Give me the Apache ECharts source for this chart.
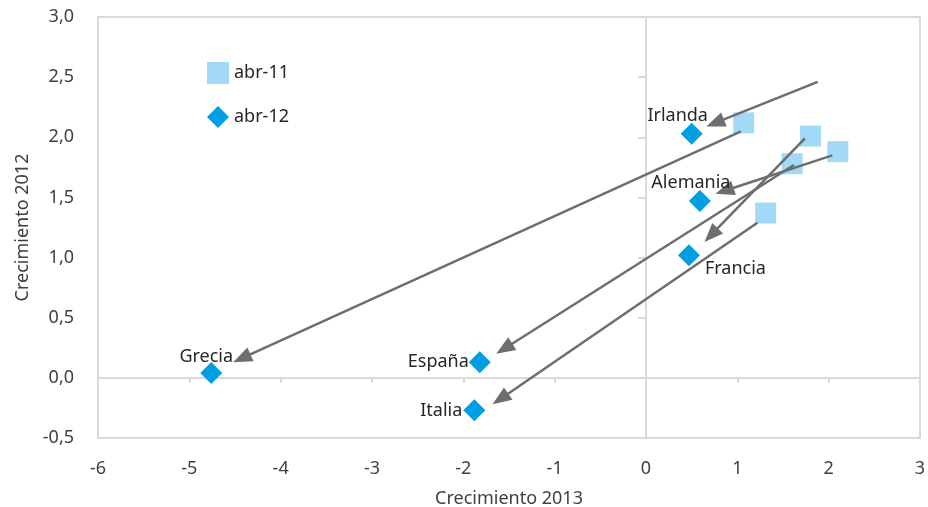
<!DOCTYPE html>
<html>
<head>
<meta charset="utf-8">
<script src="https://cdn.jsdelivr.net/npm/echarts@6/dist/echarts.min.js"></script>
<style>
  html, body { margin: 0; padding: 0; background: #fff; }
  #chart { width: 928px; height: 507px; }
</style>
</head>
<body>
<div id="chart"></div>
<script>
// Growth forecasts: 2013 (x) vs 2012 (y)
const countries = ['Irlanda', 'Alemania', 'Francia', 'España', 'Italia', 'Grecia'];

// April 2012 forecasts
const abr12X = [0.50, 0.59, 0.47, -1.82, -1.88, -4.76];
const abr12Y = [2.03, 1.47, 1.02, 0.13, -0.27, 0.04];

// April 2011 forecasts
const abr11X = [1.07, 1.80, 2.10, 1.60, 1.31];
const abr11Y = [2.12, 2.01, 1.88, 1.78, 1.37];

// Revision arrows (start -> tip)
const arrowFromX = [1.88, 1.04, 2.04, 1.74, 1.62, 1.22];
const arrowFromY = [2.46, 2.05, 1.85, 1.99, 1.77, 1.29];
const arrowToX   = [0.66, -4.52, 0.76, 0.64, -1.64, -1.68];
const arrowToY   = [2.09, 0.13, 1.53, 1.13, 0.20, -0.22];

// Axis ranges / ticks
const xTicks = [-6, -5, -4, -3, -2, -1, 0, 1, 2, 3];
const yTicks = [-0.5, 0, 0.5, 1, 1.5, 2, 2.5, 3];

const FONT = 'Noto Sans';
const GRID_GREY = '#d9d9d9';
const ARROW_GREY = '#6e6e6e';

// label placement per country (style only)
const labelPlace = {
  'Irlanda':  { align: 'center', offset: [-14, -18] },
  'Alemania': { align: 'center', offset: [-9, -18] },
  'Francia':  { align: 'left',   offset: [16, 14] },
  'España':   { align: 'right',  offset: [-11, 0] },
  'Italia':   { align: 'right',  offset: [-12, 1] },
  'Grecia':   { align: 'center', offset: [-5, -16] }
};

const abr12Data = countries.map((c, i) => ({
  name: c,
  value: [abr12X[i], abr12Y[i]],
  label: {
    show: true,
    position: 'inside',
    formatter: c,
    align: labelPlace[c].align,
    offset: labelPlace[c].offset,
    color: '#262626',
    fontFamily: FONT,
    fontSize: 18
  }
}));

const abr11Data = abr11X.map((x, i) => [x, abr11Y[i]]);

const arrowData = arrowFromX.map((x, i) => [x, arrowFromY[i], arrowToX[i], arrowToY[i]]);

// Straight arrow: shaft plus a filled triangular head whose tip sits on the end point
function renderArrow(params, api) {
  const p0 = api.coord([api.value(0), api.value(1)]);
  const p1 = api.coord([api.value(2), api.value(3)]);
  const dx = p1[0] - p0[0], dy = p1[1] - p0[1];
  const len = Math.sqrt(dx * dx + dy * dy) || 1;
  const ux = dx / len, uy = dy / len;
  const headLen = 19, headHalf = 7.5;
  const bx = p1[0] - ux * headLen, by = p1[1] - uy * headLen;
  return {
    type: 'group',
    children: [
      {
        type: 'line',
        shape: { x1: p0[0], y1: p0[1], x2: bx + ux * 2, y2: by + uy * 2 },
        style: { stroke: ARROW_GREY, lineWidth: 2.5, fill: null }
      },
      {
        type: 'polygon',
        shape: { points: [[p1[0], p1[1]], [bx - uy * headHalf, by + ux * headHalf], [bx + uy * headHalf, by - ux * headHalf]] },
        style: { fill: ARROW_GREY }
      }
    ]
  };
}

const yFmt = v => v.toFixed(1).replace('.', ',');

const chart = echarts.init(document.getElementById('chart'), null, { renderer: 'canvas' });

chart.setOption({
  animation: false,
  backgroundColor: '#fff',
  textStyle: { fontFamily: FONT },
  grid: {
    left: 98, right: 8, top: 17, bottom: 69,
    containLabel: false,
    outerBoundsMode: 'none',
    show: true,
    borderColor: GRID_GREY,
    borderWidth: 2,
    backgroundColor: 'transparent'
  },
  legend: {
    orient: 'vertical',
    left: 202,
    top: 57,
    itemWidth: 22,
    itemHeight: 22,
    itemGap: 22,
    textStyle: { fontFamily: FONT, fontSize: 18, color: '#262626' },
    data: ['abr-11', 'abr-12']
  },
  xAxis: [
    {
      type: 'value',
      min: xTicks[0], max: xTicks[xTicks.length - 1], interval: 1,
      name: 'Crecimiento 2013',
      nameLocation: 'middle',
      nameGap: 52,
      nameTextStyle: { fontFamily: FONT, fontSize: 18, color: '#404040' },
      axisLine: { show: false, onZero: false },
      axisTick: { show: false },
      splitLine: { show: false },
      axisLabel: { margin: 22, fontFamily: FONT, fontSize: 18, color: '#404040' }
    },
    {
      type: 'value',
      min: xTicks[0], max: xTicks[xTicks.length - 1], interval: 1,
      position: 'bottom',
      axisLine: { show: true, onZero: true, lineStyle: { color: GRID_GREY, width: 2 } },
      axisTick: { show: true, length: 5, lineStyle: { color: GRID_GREY, width: 2 } },
      axisLabel: { show: false },
      splitLine: { show: false }
    }
  ],
  yAxis: [
    {
      type: 'value',
      min: yTicks[0], max: yTicks[yTicks.length - 1], interval: 0.5,
      name: 'Crecimiento 2012',
      nameLocation: 'middle',
      nameGap: 66,
      nameTextStyle: { fontFamily: FONT, fontSize: 18, color: '#404040' },
      axisLine: { show: false, onZero: false },
      axisTick: { show: false },
      splitLine: { show: false },
      axisLabel: { margin: 24, fontFamily: FONT, fontSize: 18, color: '#404040', formatter: yFmt }
    },
    {
      type: 'value',
      min: yTicks[0], max: yTicks[yTicks.length - 1], interval: 0.5,
      position: 'left',
      axisLine: { show: true, onZero: true, lineStyle: { color: GRID_GREY, width: 2 } },
      axisTick: { show: true, length: 8, lineStyle: { color: GRID_GREY, width: 2 } },
      axisLabel: { show: false },
      splitLine: { show: false }
    }
  ],
  series: [
    {
      name: 'arrows',
      type: 'custom',
      coordinateSystem: 'cartesian2d',
      xAxisIndex: 0,
      yAxisIndex: 0,
      encode: { x: [0, 2], y: [1, 3] },
      renderItem: renderArrow,
      silent: true,
      z: 3,
      data: arrowData
    },
    {
      name: 'abr-11',
      type: 'scatter',
      xAxisIndex: 0,
      yAxisIndex: 0,
      symbol: 'rect',
      symbolSize: 21,
      itemStyle: { color: '#a2d9f7', opacity: 1 },
      z: 2,
      data: abr11Data
    },
    {
      name: 'abr-12',
      type: 'scatter',
      xAxisIndex: 0,
      yAxisIndex: 0,
      symbol: 'diamond',
      symbolSize: 22,
      itemStyle: { color: '#009fe3', opacity: 1 },
      z: 4,
      data: abr12Data
    }
  ]
});
</script>
</body>
</html>
